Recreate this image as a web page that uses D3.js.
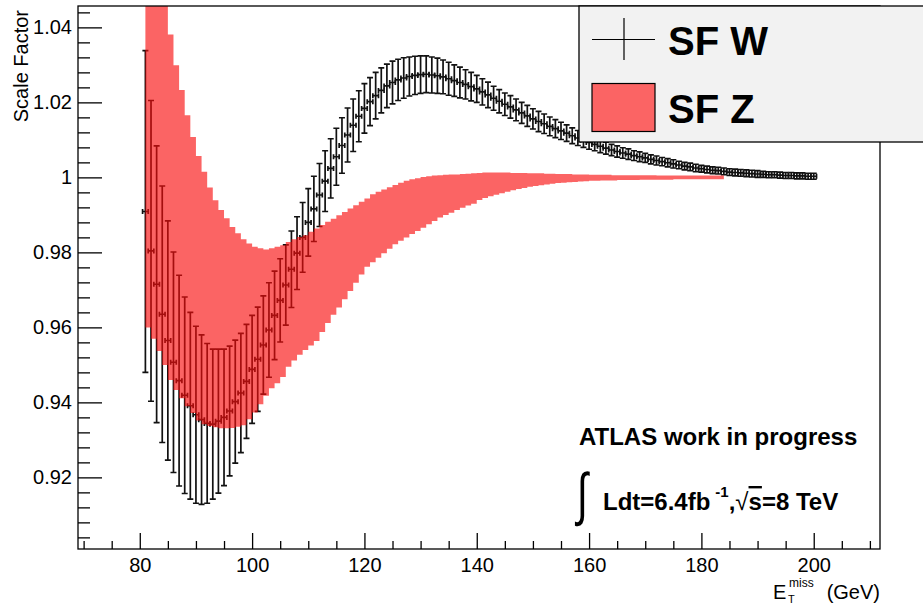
<!DOCTYPE html>
<html>
<head>
<meta charset="utf-8">
<script src="https://cdn.jsdelivr.net/npm/d3@7"></script>
<style>
  body { margin: 0; background: #fff; }
  svg text { font-family: "Liberation Sans", Arial, Helvetica, sans-serif; }
</style>
</head>
<body>
<svg id="drawing_region"></svg>
<script>
// SF W: points (1 GeV bins) with symmetric errors
const wX = [
  81, 82, 83, 84, 85, 86, 87, 88, 89, 90, 91, 92, 93, 94, 95, 96, 97, 98, 99, 100,
  101, 102, 103, 104, 105, 106, 107, 108, 109, 110, 111, 112, 113, 114, 115, 116, 117, 118, 119, 120,
  121, 122, 123, 124, 125, 126, 127, 128, 129, 130, 131, 132, 133, 134, 135, 136, 137, 138, 139, 140,
  141, 142, 143, 144, 145, 146, 147, 148, 149, 150, 151, 152, 153, 154, 155, 156, 157, 158, 159, 160,
  161, 162, 163, 164, 165, 166, 167, 168, 169, 170, 171, 172, 173, 174, 175, 176, 177, 178, 179, 180,
  181, 182, 183, 184, 185, 186, 187, 188, 189, 190, 191, 192, 193, 194, 195, 196, 197, 198, 199, 200
];
const wY = [
  0.9909, 0.9804, 0.9715, 0.9635, 0.9565, 0.9507, 0.9458, 0.9419, 0.9391, 0.9367,
  0.9354, 0.9344, 0.9342, 0.9350, 0.9360, 0.9377, 0.9402, 0.9425, 0.9456, 0.9488,
  0.9515, 0.9553, 0.9593, 0.9632, 0.9672, 0.9713, 0.9755, 0.9798, 0.9840, 0.9880,
  0.9916, 0.9953, 0.9990, 1.0024, 1.0055, 1.0085, 1.0113, 1.0139, 1.0163, 1.0184,
  1.0202, 1.0218, 1.0232, 1.0244, 1.0253, 1.0260, 1.0265, 1.0269, 1.0272, 1.0274,
  1.0275, 1.0273, 1.0271, 1.0268, 1.0263, 1.0258, 1.0253, 1.0248, 1.0242, 1.0236,
  1.0228, 1.0220, 1.0211, 1.0203, 1.0195, 1.0188, 1.0180, 1.0172, 1.0164, 1.0156,
  1.0149, 1.0143, 1.0136, 1.0130, 1.0124, 1.0118, 1.0111, 1.0105, 1.0099, 1.0093,
  1.0088, 1.0083, 1.0078, 1.0073, 1.0069, 1.0065, 1.0062, 1.0058, 1.0055, 1.0052,
  1.0048, 1.0045, 1.0042, 1.0039, 1.0036, 1.0033, 1.0030, 1.0028, 1.0025, 1.0023,
  1.0021, 1.0019, 1.0018, 1.0016, 1.0014, 1.0013, 1.0012, 1.0011, 1.0010, 1.0009,
  1.0008, 1.0007, 1.0007, 1.0006, 1.0005, 1.0005, 1.0004, 1.0004, 1.0003, 1.0003
];
const wErr = [
  0.0429, 0.0401, 0.0369, 0.0342, 0.0319, 0.0294, 0.0281, 0.0262, 0.0249, 0.0236,
  0.0226, 0.0213, 0.0200, 0.0192, 0.0182, 0.0173, 0.0164, 0.0159, 0.0152, 0.0144,
  0.0139, 0.0131, 0.0126, 0.0118, 0.0111, 0.0107, 0.0102, 0.0097, 0.0093, 0.0090,
  0.0087, 0.0084, 0.0081, 0.0079, 0.0076, 0.0074, 0.0072, 0.0070, 0.0068, 0.0066,
  0.0064, 0.0062, 0.0060, 0.0058, 0.0057, 0.0055, 0.0054, 0.0052, 0.0051, 0.0050,
  0.0049, 0.0048, 0.0047, 0.0045, 0.0044, 0.0042, 0.0041, 0.0039, 0.0038, 0.0036,
  0.0035, 0.0034, 0.0032, 0.0031, 0.0030, 0.0030, 0.0029, 0.0028, 0.0028, 0.0027,
  0.0027, 0.0026, 0.0025, 0.0024, 0.0023, 0.0022, 0.0021, 0.0020, 0.0019, 0.0018,
  0.0017, 0.0017, 0.0016, 0.0015, 0.0015, 0.0014, 0.0014, 0.0013, 0.0013, 0.0012,
  0.0012, 0.0012, 0.0011, 0.0011, 0.0011, 0.0010, 0.0010, 0.0010, 0.0010, 0.0009,
  0.0009, 0.0009, 0.0009, 0.0009, 0.0009, 0.0009, 0.0009, 0.0009, 0.0009, 0.0009,
  0.0008, 0.0008, 0.0008, 0.0008, 0.0008, 0.0008, 0.0008, 0.0008, 0.0008, 0.0008
];

// SF Z: band, low edge of each 1 GeV bin with lower / upper value
const zX = [
  81, 82, 83, 84, 85, 86, 87, 88, 89, 90, 91, 92, 93, 94, 95, 96, 97, 98, 99, 100,
  101, 102, 103, 104, 105, 106, 107, 108, 109, 110, 111, 112, 113, 114, 115, 116, 117, 118, 119, 120,
  121, 122, 123, 124, 125, 126, 127, 128, 129, 130, 131, 132, 133, 134, 135, 136, 137, 138, 139, 140,
  141, 142, 143, 144, 145, 146, 147, 148, 149, 150, 151, 152, 153, 154, 155, 156, 157, 158, 159, 160,
  161, 162, 163, 164, 165, 166, 167, 168, 169, 170, 171, 172, 173, 174, 175, 176, 177, 178, 179, 180,
  181, 182, 183
];
const zHigh = [
  1.0850, 1.0710, 1.0590, 1.0480, 1.0381, 1.0299, 1.0233, 1.0166, 1.0108, 1.0057,
  1.0015, 0.9973, 0.9939, 0.9913, 0.9891, 0.9868, 0.9851, 0.9835, 0.9824, 0.9815,
  0.9811, 0.9808, 0.9811, 0.9815, 0.9819, 0.9828, 0.9835, 0.9841, 0.9846, 0.9855,
  0.9864, 0.9873, 0.9882, 0.9890, 0.9899, 0.9908, 0.9917, 0.9926, 0.9935, 0.9944,
  0.9955, 0.9962, 0.9968, 0.9974, 0.9980, 0.9986, 0.9991, 0.9995, 0.9998, 1.0001,
  1.0003, 1.0005, 1.0006, 1.0007, 1.0008, 1.0008, 1.0009, 1.0010, 1.0011, 1.0012,
  1.0013, 1.0013, 1.0013, 1.0013, 1.0013, 1.0012, 1.0012, 1.0012, 1.0011, 1.0011,
  1.0011, 1.0010, 1.0010, 1.0009, 1.0009, 1.0009, 1.0008, 1.0008, 1.0008, 1.0007,
  1.0007, 1.0007, 1.0007, 1.0006, 1.0006, 1.0006, 1.0006, 1.0006, 1.0006, 1.0006,
  1.0006, 1.0005, 1.0005, 1.0005, 1.0005, 1.0005, 1.0005, 1.0005, 1.0005, 1.0005,
  1.0005, 1.0005, 1.0005
];
const zLow = [
  0.9600, 0.9570, 0.9537, 0.9500, 0.9460, 0.9433, 0.9411, 0.9390, 0.9372, 0.9352,
  0.9342, 0.9337, 0.9334, 0.9331, 0.9331, 0.9332, 0.9335, 0.9339, 0.9355, 0.9373,
  0.9395, 0.9418, 0.9438, 0.9451, 0.9468, 0.9495, 0.9512, 0.9527, 0.9540, 0.9552,
  0.9564, 0.9588, 0.9612, 0.9634, 0.9653, 0.9675, 0.9697, 0.9719, 0.9741, 0.9762,
  0.9774, 0.9786, 0.9798, 0.9810, 0.9822, 0.9831, 0.9840, 0.9849, 0.9857, 0.9866,
  0.9875, 0.9884, 0.9893, 0.9900, 0.9906, 0.9913, 0.9919, 0.9925, 0.9930, 0.9940,
  0.9945, 0.9950, 0.9954, 0.9958, 0.9962, 0.9966, 0.9969, 0.9972, 0.9975, 0.9977,
  0.9979, 0.9981, 0.9983, 0.9985, 0.9986, 0.9987, 0.9988, 0.9989, 0.9990, 0.9991,
  0.9991, 0.9992, 0.9992, 0.9992, 0.9993, 0.9993, 0.9993, 0.9993, 0.9994, 0.9994,
  0.9994, 0.9994, 0.9994, 0.9994, 0.9995, 0.9995, 0.9995, 0.9995, 0.9995, 0.9995,
  0.9995, 0.9995, 0.9995
];

const xMajorTicks = [80, 100, 120, 140, 160, 180, 200];
const yMajorTicks = [0.92, 0.94, 0.96, 0.98, 1, 1.02, 1.04];
const yTickLabels = ['0.92', '0.94', '0.96', '0.98', '1', '1.02', '1.04'];

class ScaleFactorChart {

    constructor( config ) {
        this.config = {
            parent: config.parent,
            width: config.width || 923,
            height: config.height || 604,
            margin: config.margin || {top:6, right:43, bottom:55, left:78}
        };
        this.init();
    }

    init() {
        let self = this;

        self.svg = d3.select( self.config.parent )
            .attr('width', self.config.width)
            .attr('height', self.config.height);

        self.inner_width = self.config.width - self.config.margin.left - self.config.margin.right;
        self.inner_height = self.config.height - self.config.margin.top - self.config.margin.bottom;

        self.svg.append('defs').append('clipPath')
            .attr('id', 'plotClip')
            .append('rect')
            .attr('width', self.inner_width)
            .attr('height', self.inner_height);

        self.chart = self.svg.append('g')
            .attr('transform', `translate(${self.config.margin.left}, ${self.config.margin.top})`);

        self.xscale = d3.scaleLinear()
            .domain([69, 211.8])
            .range([0, self.inner_width]);

        self.yscale = d3.scaleLinear()
            .domain([0.9009, 1.0457])
            .range([self.inner_height, 0]);

        self.wdata = wX.map( (x, i) => ({x: x, y: wY[i], e: wErr[i]}) );
        self.zdata = zX.map( (x, i) => ({x: x, lo: zLow[i], hi: zHigh[i]}) );
        const last = self.zdata[self.zdata.length - 1];
        self.zdata.push({x: last.x + 1, lo: last.lo, hi: last.hi});
    }

    update() {
        let self = this;
        self.render();
    }

    render() {
        let self = this;
        const xs = self.xscale, ys = self.yscale;
        const bandFill = '#f80d0d', bandOpacity = 0.64;

        const plot = self.chart.append('g').attr('clip-path', 'url(#plotClip)');

        // SF W error bars
        plot.selectAll('path.w')
            .data(self.wdata)
            .join('path')
            .attr('class', 'w')
            .attr('d', d => {
                const cx = xs(d.x), cy = ys(d.y);
                const top = ys(d.y + d.e), bot = ys(d.y - d.e);
                const xl = xs(d.x - 0.5), xr = xs(d.x + 0.5);
                return `M${cx},${top}V${bot}` +
                       `M${cx - 3},${top}H${cx + 3}M${cx - 3},${bot}H${cx + 3}` +
                       `M${xl},${cy}H${xr}` +
                       `M${xl},${cy - 2.5}V${cy + 2.5}M${xr},${cy - 2.5}V${cy + 2.5}`;
            })
            .attr('fill', 'none')
            .attr('stroke', '#111')
            .attr('stroke-width', 1.7);

        // SF Z band (semi-transparent so the W bars show through, as in the dotted ROOT fill)
        const area = d3.area()
            .x( d => xs(d.x) )
            .y0( d => ys(d.lo) )
            .y1( d => ys(d.hi) )
            .curve(d3.curveStepAfter);

        plot.append('path')
            .attr('d', area(self.zdata))
            .attr('fill', bandFill)
            .attr('fill-opacity', bandOpacity)
            .attr('stroke', 'none');

        // axes (ticks drawn inward, ROOT style)
        const xMinor = d3.range(70, 212, 5).filter(v => xMajorTicks.indexOf(v) < 0);
        const yMinor = d3.range(0, 36).map(i => +(0.904 + i * 0.004).toFixed(3))
            .filter(v => v <= 1.0457 && yMajorTicks.indexOf(v) < 0);

        const xaxis = d3.axisBottom(xs).tickValues(xMajorTicks).tickSize(-16).tickSizeOuter(0).tickPadding(9)
            .tickFormat(d3.format('d'));
        const xaxisMinor = d3.axisBottom(xs).tickValues(xMinor).tickSize(-8).tickSizeOuter(0).tickFormat('');
        const yaxis = d3.axisLeft(ys).tickValues(yMajorTicks).tickSize(-24).tickSizeOuter(0).tickPadding(6)
            .tickFormat((d, i) => yTickLabels[i]);
        const yaxisMinor = d3.axisLeft(ys).tickValues(yMinor).tickSize(-12).tickSizeOuter(0).tickFormat('');

        const axes = [
            self.chart.append('g').attr('transform', `translate(0, ${self.inner_height})`).call(xaxis),
            self.chart.append('g').attr('transform', `translate(0, ${self.inner_height})`).call(xaxisMinor),
            self.chart.append('g').call(yaxis),
            self.chart.append('g').call(yaxisMinor)
        ];
        axes.forEach(g => {
            g.select('.domain').remove();
            g.selectAll('line').attr('stroke', '#000').attr('stroke-width', 1.3);
            g.selectAll('text')
                .attr('font-family', '"Liberation Sans", Arial, sans-serif')
                .attr('font-size', 20)
                .attr('fill', '#000');
        });

        // frame
        self.chart.append('rect')
            .attr('width', self.inner_width)
            .attr('height', self.inner_height)
            .attr('fill', 'none')
            .attr('stroke', '#000')
            .attr('stroke-width', 1.3);

        // axis titles
        self.svg.append('text')
            .attr('transform', 'translate(28, 10) rotate(-90)')
            .attr('text-anchor', 'end')
            .attr('font-size', 20)
            .text('Scale Factor');

        const xt = self.svg.append('g').attr('font-size', 20);
        xt.append('text').attr('x', 880).attr('y', 599).attr('text-anchor', 'end').text('(GeV)');
        xt.append('text').attr('x', 773).attr('y', 599).text('E');
        xt.append('text').attr('x', 789).attr('y', 587).attr('font-size', 12).text('miss');
        xt.append('text').attr('x', 788).attr('y', 603).attr('font-size', 11).text('T');

        // legend
        const lg = self.svg.append('g');
        lg.append('rect')
            .attr('x', 579).attr('y', 6)
            .attr('width', 400).attr('height', 136)
            .attr('fill', '#f2f2f2')
            .attr('stroke', '#000')
            .attr('stroke-width', 1.3);
        lg.append('path')
            .attr('d', 'M592,39.5H655M624,18V60')
            .attr('stroke', '#000')
            .attr('stroke-width', 1.2);
        lg.append('text').attr('x', 668).attr('y', 55)
            .attr('font-size', 40).attr('font-weight', 'bold').text('SF W');
        lg.append('rect')
            .attr('x', 592).attr('y', 83.5)
            .attr('width', 63).attr('height', 48)
            .attr('fill', '#fff');
        lg.append('rect')
            .attr('x', 592).attr('y', 83.5)
            .attr('width', 63).attr('height', 48)
            .attr('fill', bandFill)
            .attr('fill-opacity', bandOpacity);
        lg.append('rect')
            .attr('x', 592).attr('y', 83.5)
            .attr('width', 63).attr('height', 48)
            .attr('fill', 'none')
            .attr('stroke', '#000')
            .attr('stroke-width', 1.2);
        lg.append('text').attr('x', 668).attr('y', 123)
            .attr('font-size', 40).attr('font-weight', 'bold').text('SF Z');

        // annotation
        self.svg.append('text').attr('x', 579).attr('y', 445)
            .attr('font-size', 24).attr('font-weight', 'bold')
            .text('ATLAS work in progress');

        self.svg.append('text')
            .attr('transform', 'translate(577, 514) scale(1, 1.45)')
            .attr('font-family', '"DejaVu Sans", sans-serif')
            .attr('font-size', 40)
            .text('\u222B');

        const lum = self.svg.append('text').attr('x', 603).attr('y', 510)
            .attr('font-size', 24).attr('font-weight', 'bold');
        lum.append('tspan').text('Ldt=6.4fb');
        lum.append('tspan').attr('dx', 5).attr('dy', -13).attr('font-size', 15).text('-1');
        lum.append('tspan').attr('dy', 13).text(',');
        lum.append('tspan').attr('font-weight', 'normal').text('\u221A');
        lum.append('tspan').attr('text-decoration', 'overline').text('s');
        lum.append('tspan').text('=8 TeV');
    }
}

const chart = new ScaleFactorChart({
    parent: '#drawing_region',
    width: 923,
    height: 604,
    margin: {top:6, right:43, bottom:55, left:78}
});
chart.update();
</script>
</body>
</html>
